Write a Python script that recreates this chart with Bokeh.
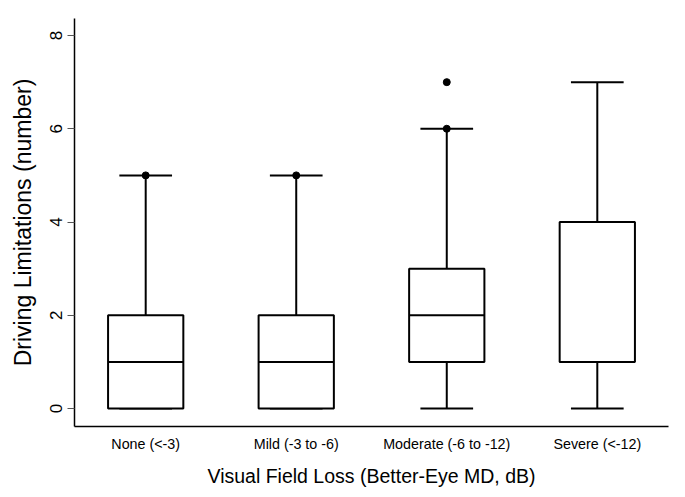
from bokeh.plotting import figure
from bokeh.models import Range1d, FixedTicker, ColumnDataSource
from bokeh.embed import file_html
from bokeh.resources import INLINE

categories = ["None (<-3)", "Mild (-3 to -6)", "Moderate (-6 to -12)", "Severe (<-12)"]
lower = [0, 0, 0, 0]
q1 = [0, 0, 1, 1]
median = [1, 1, 2, 1]
q3 = [2, 2, 3, 4]
upper = [5, 5, 6, 7]
outlier_group = [1, 2, 3, 3]
outlier_value = [5, 5, 6, 7]
y_ticks = [0, 2, 4, 6, 8]

xs = list(range(1, len(categories) + 1))
box_half = 0.25
cap_half = 0.175

p = figure(width=685, height=497, output_backend="svg", toolbar_location=None,
           x_range=Range1d(0.527, 4.473), y_range=Range1d(-0.386, 8.365),
           min_border_left=74, min_border_right=17, min_border_top=18, min_border_bottom=71)
p.outline_line_color = None
p.xgrid.visible = False
p.ygrid.visible = False
p.background_fill_color = "white"
p.border_fill_color = "white"

src = ColumnDataSource(dict(x=xs, lo=lower, q1=q1, med=median, q3=q3, hi=upper,
                            left=[x - box_half for x in xs], right=[x + box_half for x in xs],
                            cl=[x - cap_half for x in xs], cr=[x + cap_half for x in xs]))

# whiskers
p.segment(x0="x", y0="q3", x1="x", y1="hi", source=src, line_color="black", line_width=2)
p.segment(x0="x", y0="lo", x1="x", y1="q1", source=src, line_color="black", line_width=2)
# caps
p.segment(x0="cl", y0="hi", x1="cr", y1="hi", source=src, line_color="black", line_width=2)
p.segment(x0="cl", y0="lo", x1="cr", y1="lo", source=src, line_color="black", line_width=2)
# boxes
p.quad(left="left", right="right", bottom="q1", top="q3", source=src,
       fill_color="white", line_color="black", line_width=2)
# medians
p.segment(x0="left", y0="med", x1="right", y1="med", source=src, line_color="black", line_width=2)
# outliers
p.scatter(x=outlier_group, y=outlier_value, size=7, color="black")

font = "Liberation Sans"
# x axis
p.xaxis.ticker = FixedTicker(ticks=xs)
p.xaxis.major_label_overrides = {x: c for x, c in zip(xs, categories)}
p.xaxis.major_tick_out = 0
p.xaxis.major_tick_in = 0
p.xaxis.minor_tick_out = 0
p.xaxis.minor_tick_in = 0
p.xaxis.axis_line_width = 1.5
p.xaxis.axis_line_color = "black"
p.xaxis.major_label_text_font = font
p.xaxis.major_label_text_font_size = "14.3px"
p.xaxis.major_label_text_color = "black"
p.xaxis.major_label_standoff = 9
p.xaxis.axis_label = "Visual Field Loss (Better-Eye MD, dB)"
p.xaxis.axis_label_text_font = font
p.xaxis.axis_label_text_font_size = "19.5px"
p.xaxis.axis_label_text_font_style = "normal"
p.xaxis.axis_label_text_color = "black"
p.xaxis.axis_label_standoff = 10

# y axis
p.yaxis.ticker = FixedTicker(ticks=y_ticks)
p.yaxis.major_tick_out = 7
p.yaxis.major_tick_in = 0
p.yaxis.minor_tick_out = 0
p.yaxis.minor_tick_in = 0
p.yaxis.major_tick_line_color = "#555555"
p.yaxis.axis_line_width = 1.5
p.yaxis.axis_line_color = "black"
p.yaxis.major_label_orientation = "vertical"
p.yaxis.major_label_text_font = font
p.yaxis.major_label_text_font_size = "17px"
p.yaxis.major_label_text_color = "black"
p.yaxis.major_label_standoff = 5
p.yaxis.axis_label = "Driving Limitations (number)"
p.yaxis.axis_label_text_font = font
p.yaxis.axis_label_text_font_size = "23px"
p.yaxis.axis_label_text_font_style = "normal"
p.yaxis.axis_label_text_color = "black"
p.yaxis.axis_label_standoff = 12

open("out.html", "w").write(file_html(p, INLINE))
